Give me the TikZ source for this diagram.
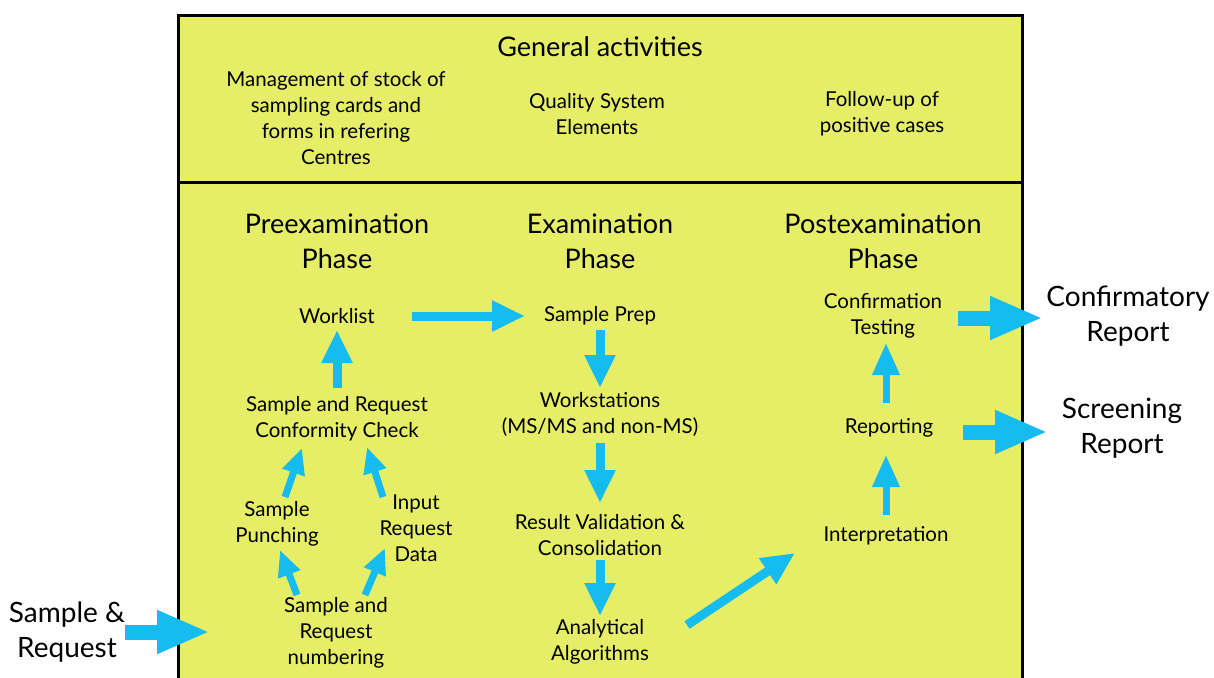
\documentclass[tikz,border=0pt]{standalone}
\usepackage{fontspec}
\setmainfont{Lato}
\usetikzlibrary{arrows.meta,calc}
\definecolor{boxfill}{RGB}{229,238,102}
\definecolor{arrowcyan}{RGB}{22,188,240}
\begin{document}
\begin{tikzpicture}[x=1pt,y=-1pt,
  txt/.style={align=center,font=\fontsize{20.5}{26}\selectfont,inner sep=0pt},
  hd/.style={align=center,font=\fontsize{27}{35}\selectfont,inner sep=0pt},
  outer/.style={align=center,font=\fontsize{28}{35}\selectfont,inner sep=0pt},
  bigba/.style={draw=arrowcyan,line width=15pt,-{Triangle[width=40pt,length=53pt]}},
  ba/.style={draw=arrowcyan,line width=9pt,-{Triangle[width=29pt,length=33pt]}},
  sba/.style={draw=arrowcyan,line width=7pt,-{Triangle[width=26pt,length=32pt]}},
  tba/.style={draw=arrowcyan,line width=7pt,-{Triangle[width=22pt,length=26pt]}}]
\useasboundingbox (0,0) rectangle (1214,677);
% frame
\draw[line width=3pt,fill=boxfill] (178,16) rectangle (1022,700);
\draw[line width=3pt] (178,182) -- (1022,182);
% general activities
\node[hd] (gen) at (600,47) {General activities};
\node[txt] (mgmt) at (336,118) {Management of stock of\\sampling cards and\\forms in refering\\Centres};
\node[txt] (qse) at (597,114) {Quality System\\Elements};
\node[txt] (fup) at (882,114) {Follow-up of\\positive cases};
% phases
\node[hd] (pre) at (337,241) {Preexamination\\Phase};
\node[hd] (exa) at (600,241) {Examination\\Phase};
\node[hd] (post) at (883,241) {Postexamination\\Phase};
% pre nodes
\node[txt] (wl) at (337,316) {Worklist};
\node[txt] (conf) at (337,419) {Sample and Request\\Conformity Check};
\node[txt] (pun) at (277,524) {Sample\\Punching};
\node[txt] (inp) at (416,528) {Input\\Request\\Data};
\node[txt] (num) at (336,633) {Sample and\\Request\\numbering};
% exam nodes
\node[txt] (prep) at (600,316) {Sample Prep};
\node[txt] (ws) at (600,414) {Workstations\\(MS/MS and non-MS)};
\node[txt] (rv) at (600,535) {Result Validation \&\\Consolidation};
\node[txt] (alg) at (600,642) {Analytical\\Algorithms};
% post nodes
\node[txt] (ct) at (883,316) {Confirmation\\Testing};
\node[txt] (rep) at (889,428) {Reporting};
\node[txt] (int) at (886,536) {Interpretation};
% outside
\node[outer] (sr) at (67,632) {Sample \&\\Request};
\node[outer] (cr) at (1128,316) {Confirmatory\\Report};
\node[outer] (sc) at (1122,428) {Screening\\Report};
\coordinate (entry) at (210,632);
% arrows
\draw[bigba] ($(sr)+(58,0)$) -- (entry);
\draw[bigba] ($(ct)+(75,2)$) -- ($(cr)+(-85,2)$);
\draw[bigba] ($(rep)+(74,4)$) -- ($(sc)+(-74,4)$);
\draw[ba] ($(wl)+(75,0)$) -- ($(prep)+(-75,0)$);
\draw[ba] ($(prep)+(0,14)$) -- ($(ws)+(0,-26)$);
\draw[ba] ($(ws)+(0,29)$) -- ($(rv)+(0,-32)$);
\draw[ba] ($(rv)+(0,25)$) -- ($(alg)+(0,-26)$);
\draw[ba] ($(alg)+(87,-17)$) -- ($(int)+(-91,17)$);
\draw[ba] ($(conf)+(0,-31)$) -- ($(wl)+(0,14)$);
\draw[sba] ($(int)+(0,-21)$) -- ($(rep)+(-3,27)$);
\draw[sba] ($(rep)+(-3,-25)$) -- ($(ct)+(3,27)$);
\draw[tba] ($(pun)+(8,-27)$) -- ($(conf)+(-35,29)$);
\draw[tba] ($(inp)+(-33,-31)$) -- ($(conf)+(30,28)$);
\draw[tba] ($(num)+(-39,-38)$) -- ($(pun)+(3,26)$);
\draw[tba] ($(num)+(29,-38)$) -- ($(inp)+(-31,20)$);
\end{tikzpicture}
\end{document}
